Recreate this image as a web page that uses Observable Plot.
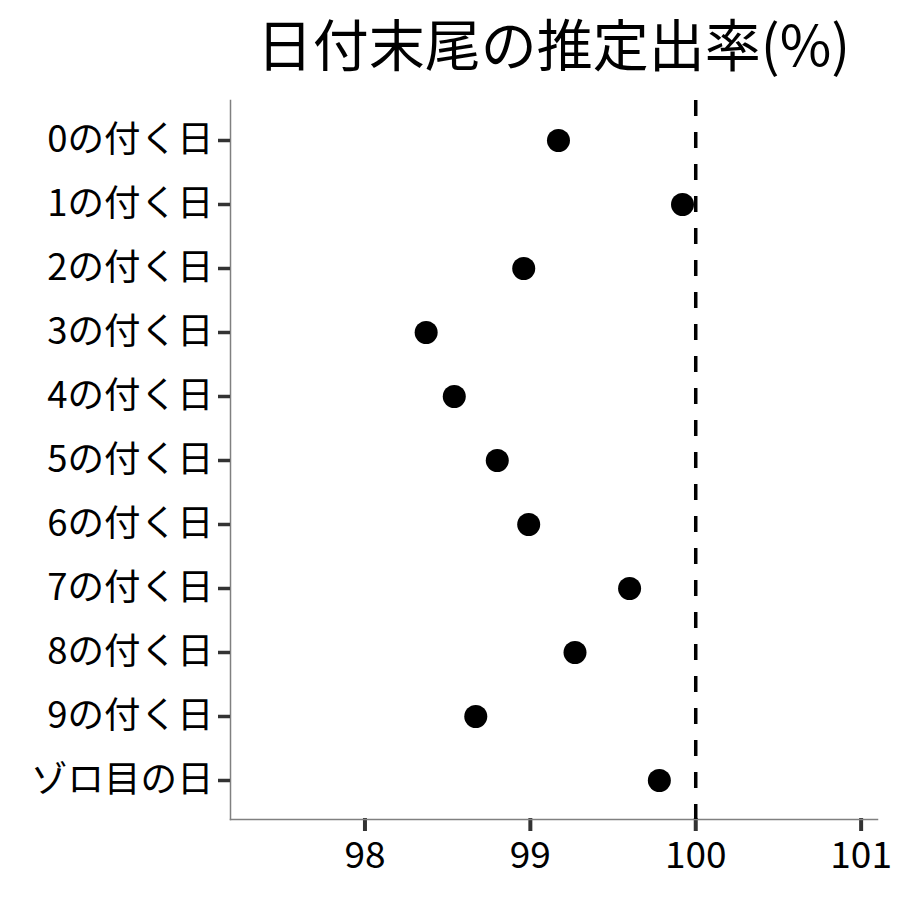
<!DOCTYPE html>
<html>
<head>
<meta charset="utf-8">
<script src="https://cdn.jsdelivr.net/npm/d3@7"></script>
<script src="https://cdn.jsdelivr.net/npm/@observablehq/plot@0.6"></script>
<style>
  body { margin: 0; background: #fff; }
  #wrap { width: 900px; height: 900px; font-family: 'Noto Sans CJK JP', 'Noto Sans', sans-serif; }
  #title { margin-left: 230px; width: 647px; height: 90px; line-height: 84px; text-align: center; font-size: 56px; color: black; white-space: nowrap; }
</style>
</head>
<body>
<div id="wrap">
  <div id="title"></div>
  <div id="chart"></div>
</div>
<script>
const categories = ["0の付く日","1の付く日","2の付く日","3の付く日","4の付く日","5の付く日","6の付く日","7の付く日","8の付く日","9の付く日","ゾロ目の日"];
const values = [99.17, 99.92, 98.96, 98.37, 98.54, 98.80, 98.99, 99.60, 99.27, 98.67, 99.78];
const xTicks = [98, 99, 100, 101];
const refValue = [100];
const title = "日付末尾の推定出率(%)";

document.getElementById("title").textContent = title;

const data = categories.map((c, i) => ({cat: c, val: values[i]}));

const H = 810, MT = 10, MB = 81;
const frameH = H - MT - MB;
const tickLen = 12;

const chart = Plot.plot({
  width: 900,
  height: H,
  marginTop: MT,
  marginBottom: MB,
  marginLeft: 230,
  marginRight: 23,
  style: {fontFamily: "'Noto Sans CJK JP', 'Noto Sans', sans-serif", background: "white", color: "black", display: "block"},
  x: {domain: [97.187, 101.099]},
  y: {type: "point", domain: categories, padding: 0.6},
  marks: [
    Plot.ruleX(xTicks, {stroke: "#333", strokeWidth: 4, insetTop: frameH - 1, insetBottom: -tickLen}),
    Plot.frame({anchor: "left", stroke: "#808080", strokeWidth: 1.5}),
    Plot.frame({anchor: "bottom", stroke: "#808080", strokeWidth: 1.5}),
    Plot.axisY({tickSize: tickLen, tickPadding: 5, fontSize: 36.5, stroke: "#333", strokeWidth: 3.5, label: null, color: "black"}),
    Plot.axisX(xTicks, {anchor: "bottom", tickSize: 0, tickPadding: 22, fontSize: 37, label: null, tickFormat: d => String(d)}),
    Plot.ruleX(refValue, {stroke: "black", strokeWidth: 3.5, strokeDasharray: "16,16"}),
    Plot.dot(data, {x: "val", y: "cat", r: 11.5, fill: "black", stroke: "none"})
  ]
});
document.getElementById("chart").appendChild(chart);
</script>
</body>
</html>
